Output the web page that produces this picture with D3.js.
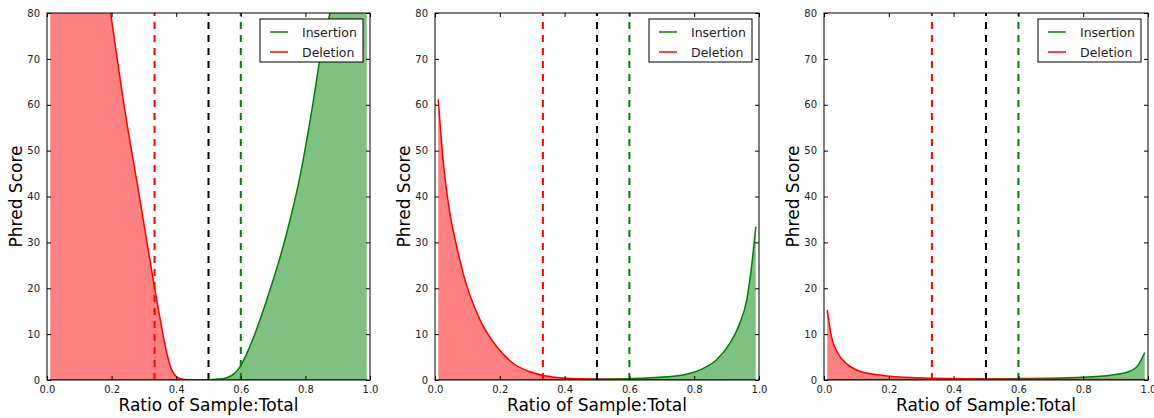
<!DOCTYPE html>
<html>
<head>
<meta charset="utf-8">
<script src="https://cdn.jsdelivr.net/npm/d3@7"></script>
<style>
  html, body { margin: 0; padding: 0; background: #fff; }
  svg { display: block; font-family: "DejaVu Sans", sans-serif; }
</style>
</head>
<body>
<svg id="chart" width="1154" height="418"></svg>
<script>
// ---- data ----
const xTicks = [0.0, 0.2, 0.4, 0.6, 0.8, 1.0];
const yTicks = [0, 10, 20, 30, 40, 50, 60, 70, 80];
const seriesNames = ["Insertion", "Deletion"];
const thresholds = [0.333, 0.5, 0.6];   // red, black, green dashed markers

// panel 1
const p1InsX = [0.01, 0.45, 0.5, 0.53, 0.556, 0.58, 0.598, 0.628, 0.68, 0.742, 0.783, 0.825, 0.845, 0.876, 0.93, 0.99];
const p1InsY = [0, 0, 0.05, 0.2, 0.5, 1.4, 2.9, 7.3, 17.4, 32, 44.3, 61, 70, 80, 100, 122];
const p1DelX = [0.01, 0.1, 0.197, 0.236, 0.288, 0.329, 0.355, 0.371, 0.386, 0.401, 0.42, 0.45, 0.5, 0.99];
const p1DelY = [162, 123, 80, 61, 39.2, 21.8, 11.5, 5.8, 2.2, 0.7, 0.15, 0.02, 0, 0];

// panel 2
const p2InsX = [0.01, 0.3, 0.5, 0.633, 0.736, 0.818, 0.869, 0.91, 0.941, 0.962, 0.977, 0.99];
const p2InsY = [0, 0.02, 0.2, 0.4, 0.8, 2.2, 4.4, 8.0, 12.4, 17.4, 24.7, 33.4];
const p2DelX = [0.01, 0.026, 0.046, 0.067, 0.087, 0.139, 0.19, 0.242, 0.293, 0.334, 0.386, 0.45, 0.55, 0.7, 0.99];
const p2DelY = [61.2, 47.2, 36.3, 29.1, 23.2, 13.1, 7.3, 3.6, 1.8, 1.0, 0.5, 0.25, 0.1, 0.04, 0];

// panel 3
const p3InsX = [0.01, 0.3, 0.6, 0.795, 0.888, 0.94, 0.97, 0.99];
const p3InsY = [0.05, 0.1, 0.3, 0.6, 1.1, 1.8, 3.3, 6.0];
const p3DelX = [0.01, 0.023, 0.043, 0.074, 0.115, 0.187, 0.29, 0.4, 0.6, 0.99];
const p3DelY = [15.3, 9.4, 5.8, 3.3, 1.8, 0.95, 0.5, 0.3, 0.15, 0.05];

const panels = [
  { left: 47,  right: 370,  ins: [p1InsX, p1InsY], del: [p1DelX, p1DelY] },
  { left: 435, right: 759,  ins: [p2InsX, p2InsY], del: [p2DelX, p2DelY] },
  { left: 824, right: 1148, ins: [p3InsX, p3InsY], del: [p3DelX, p3DelY] }
];

// ---- drawing ----
const svg = d3.select("#chart");
const plotTop = 13, plotBottom = 380;
const colors = { Insertion: "#008000", Deletion: "#ff0000" };
const fills = { Insertion: "#80c080", Deletion: "#ff8080" };
const threshColors = ["#ff0000", "#000000", "#008000"];

panels.forEach((p, i) => {
  const x = d3.scaleLinear().domain([0, 1]).range([p.left, p.right]);
  const y = d3.scaleLinear().domain([0, 80]).range([plotBottom, plotTop]);
  const g = svg.append("g");

  const clipId = "clip" + i;
  g.append("clipPath").attr("id", clipId)
    .append("rect").attr("x", p.left).attr("y", plotTop)
    .attr("width", p.right - p.left).attr("height", plotBottom - plotTop);

  const plot = g.append("g").attr("clip-path", `url(#${clipId})`);

  const toPts = (arr) => arr[0].map((xv, k) => [xv, arr[1][k]]);
  const area = d3.area().x(d => x(d[0])).y0(y(0)).y1(d => y(d[1])).curve(d3.curveMonotoneX);
  const line = d3.line().x(d => x(d[0])).y(d => y(d[1])).curve(d3.curveMonotoneX);

  const series = [["Insertion", toPts(p.ins)], ["Deletion", toPts(p.del)]];
  series.forEach(([name, pts]) => {
    plot.append("path").attr("d", area(pts)).attr("fill", fills[name]).attr("stroke", "none");
  });
  series.forEach(([name, pts]) => {
    plot.append("path").attr("d", line(pts)).attr("fill", "none")
      .attr("stroke", colors[name]).attr("stroke-width", 1.5);
  });

  // dashed threshold lines
  thresholds.forEach((t, k) => {
    plot.append("line")
      .attr("x1", x(t)).attr("x2", x(t))
      .attr("y1", y(0)).attr("y2", y(80))
      .attr("stroke", threshColors[k]).attr("stroke-width", 2)
      .attr("stroke-dasharray", "7,6");
  });

  // axes (inward ticks on all four sides)
  const axB = d3.axisBottom(x).tickValues(xTicks).tickSize(-4).tickPadding(6).tickFormat(d3.format(".1f"));
  const axT = d3.axisTop(x).tickValues(xTicks).tickSize(-4).tickFormat("");
  const axL = d3.axisLeft(y).tickValues(yTicks).tickSize(-4).tickPadding(7).tickFormat(d3.format("d"));
  const axR = d3.axisRight(y).tickValues(yTicks).tickSize(-4).tickFormat("");

  const styleAxis = sel => {
    sel.select(".domain").remove();
    sel.selectAll(".tick line").attr("stroke", "#000").attr("stroke-width", 1);
    sel.selectAll(".tick text").attr("fill", "#222").style("font-size", "10px")
      .style("font-family", "DejaVu Sans, sans-serif");
  };
  g.append("g").attr("transform", `translate(0,${plotBottom})`).call(axB).call(styleAxis);
  g.append("g").attr("transform", `translate(0,${plotTop})`).call(axT).call(styleAxis);
  g.append("g").attr("transform", `translate(${p.left},0)`).call(axL).call(styleAxis);
  g.append("g").attr("transform", `translate(${p.right},0)`).call(axR).call(styleAxis);

  // frame
  g.append("rect").attr("x", p.left).attr("y", plotTop)
    .attr("width", p.right - p.left).attr("height", plotBottom - plotTop)
    .attr("fill", "none").attr("stroke", "#000").attr("stroke-width", 1);

  // axis labels
  g.append("text").attr("x", (p.left + p.right) / 2).attr("y", 411)
    .attr("text-anchor", "middle").style("font-size", "17px").attr("fill", "#000")
    .text("Ratio of Sample:Total");
  g.append("text")
    .attr("transform", `translate(${p.left - 31},${(plotTop + plotBottom) / 2}) rotate(-90)`)
    .attr("text-anchor", "middle").attr("dominant-baseline", "central")
    .style("font-size", "17px").attr("fill", "#000")
    .text("Phred Score");

  // legend
  const lgW = 103, lgH = 43;
  const lgX = p.right - 7 - lgW, lgY = plotTop + 6;
  const lg = g.append("g").attr("transform", `translate(${lgX},${lgY})`);
  lg.append("rect").attr("width", lgW).attr("height", lgH)
    .attr("fill", "#fff").attr("stroke", "#000").attr("stroke-width", 1);
  seriesNames.forEach((name, k) => {
    const yy = 13 + k * 20;
    lg.append("line").attr("x1", 10).attr("x2", 28).attr("y1", yy).attr("y2", yy)
      .attr("stroke", colors[name]).attr("stroke-width", 1.5);
    lg.append("text").attr("x", 42).attr("y", yy).attr("dominant-baseline", "central")
      .style("font-size", "12.5px").attr("fill", "#222").text(name);
  });
});
</script>
</body>
</html>
